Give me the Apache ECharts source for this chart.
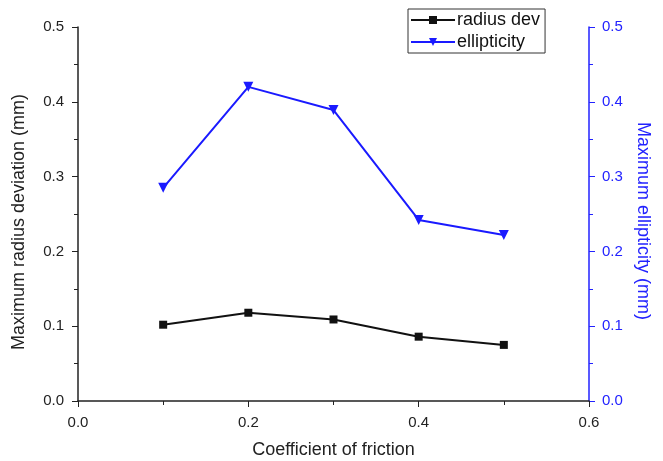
<!DOCTYPE html>
<html><head><meta charset="utf-8">
<script src="https://cdn.jsdelivr.net/npm/echarts@6/dist/echarts.min.js"></script>
<style>html,body{margin:0;padding:0;background:#fff}#c{width:663px;height:461px}</style>
</head><body><div id="c"></div>
<script>
var friction = [0.1, 0.2, 0.3, 0.4, 0.5];
var radiusDev = [0.102, 0.118, 0.109, 0.086, 0.075];
var ellipticity = [0.285, 0.420, 0.389, 0.242, 0.222];
var FONT = 'Liberation Sans';
var chart = echarts.init(document.getElementById('c'));
function pairs(xs, ys){ return xs.map(function(x,i){return [x, ys[i]];}); }
chart.setOption({
  animation: false,
  textStyle: {fontFamily: FONT},
  grid: {left: 78, right: 74, top: 27, bottom: 60, outerBoundsMode: 'none', containLabel: false},
  legend: {
    orient: 'vertical', left: 408, top: 9, itemWidth: 44, itemHeight: 10, itemGap: 4,
    borderColor: '#333', borderWidth: 1, padding: [2, 5, 2, 2],
    textStyle: {fontFamily: FONT, fontSize: 18, color: '#111', padding: [0, 0, 0, -3]},
    data: ['radius dev', 'ellipticity']
  },
  xAxis: {
    type: 'value', min: 0, max: 0.6, interval: 0.2,
    name: 'Coefficient of friction', nameLocation: 'middle', nameGap: 40,
    nameTextStyle: {fontFamily: FONT, fontSize: 18, color: '#222'},
    axisLine: {lineStyle: {color: '#222', width: 1.5}},
    axisTick: {show: true, inside: false, length: 6, lineStyle: {color: '#222'}},
    minorTick: {show: true, splitNumber: 2, length: 4, lineStyle: {color: '#222'}},
    axisLabel: {fontFamily: FONT, fontSize: 15, color: '#222', margin: 14, formatter: function(v){return v.toFixed(1);}},
    splitLine: {show: false}
  },
  yAxis: [{
    type: 'value', min: 0, max: 0.5, interval: 0.1, position: 'left',
    name: 'Maximum radius deviation (mm)', nameLocation: 'middle', nameGap: 50,
    nameTextStyle: {fontFamily: FONT, fontSize: 18, color: '#222', padding: [0, 16, 0, 0]},
    axisLine: {show: true, lineStyle: {color: '#222', width: 1.5}},
    axisTick: {show: true, inside: false, length: 6, lineStyle: {color: '#222'}},
    minorTick: {show: true, splitNumber: 2, length: 4, lineStyle: {color: '#222'}},
    axisLabel: {fontFamily: FONT, fontSize: 15, color: '#222', margin: 14, formatter: function(v){return v.toFixed(1);}},
    splitLine: {show: false}
  }, {
    type: 'value', min: 0, max: 0.5, interval: 0.1, position: 'right',
    name: 'Maximum ellipticity (mm)', nameLocation: 'middle', nameGap: 44, nameRotate: -90,
    nameTextStyle: {fontFamily: FONT, fontSize: 18, color: '#2222ff', padding: [0, 0, 0, 14]},
    axisLine: {show: true, lineStyle: {color: '#2222ff', width: 1.5}},
    axisTick: {show: true, inside: false, length: 6, lineStyle: {color: '#2222ff'}},
    minorTick: {show: true, splitNumber: 2, length: 4, lineStyle: {color: '#2222ff'}},
    axisLabel: {fontFamily: FONT, fontSize: 15, color: '#2222ff', margin: 13, formatter: function(v){return v.toFixed(1);}},
    splitLine: {show: false}
  }],
  series: [{
    name: 'radius dev', type: 'line', yAxisIndex: 0,
    data: pairs(friction, radiusDev),
    symbol: 'rect', symbolSize: 8,
    lineStyle: {color: '#111', width: 2}, itemStyle: {color: '#111'}
  }, {
    name: 'ellipticity', type: 'line', yAxisIndex: 1,
    data: pairs(friction, ellipticity),
    symbol: 'triangle', symbolRotate: 180, symbolSize: 10,
    lineStyle: {color: '#1a1aff', width: 2}, itemStyle: {color: '#1a1aff'}
  }]
});
</script></body></html>
